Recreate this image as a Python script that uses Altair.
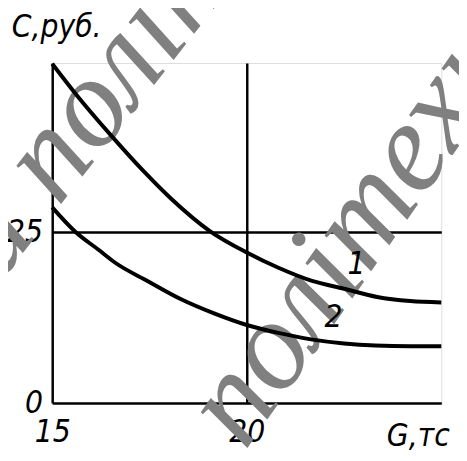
import altair as alt
import pandas as pd

# Curve data
g1 = [15.0, 15.63, 16.5, 17.33, 18.05, 19.06, 20.0, 20.8, 21.7, 22.5, 23.35, 24.2, 25.0]
c1 = [49.6, 45.0, 39.2, 34.0, 29.9, 25.1, 22.0, 19.8, 17.8, 16.7, 15.5, 14.9, 14.7]
g2 = [15.0, 15.6, 16.19, 16.62, 17.46, 18.3, 19.16, 20.0, 20.84, 21.65, 22.5, 23.3, 24.2, 25.0]
c2 = [28.6, 25.0, 22.4, 20.5, 17.8, 15.2, 13.1, 11.4, 10.2, 9.3, 8.7, 8.4, 8.3, 8.3]

x_ticks = [15, 20]
y_ticks = [0, 25]

curve_names = ["1", "2"]
label_g = [22.82, 22.23]
label_c = [20.3, 12.5]

x_title = "G,тс"
y_title = "С,руб."

wm_texts = ["а політ", "політехн"]

FONT = "DejaVu Sans Condensed, DejaVu Sans, sans-serif"
WMFONT = "Liberation Serif, DejaVu Serif, serif"

curves = pd.DataFrame(
    {"G": g1 + g2, "C": c1 + c2, "curve": ["1"] * len(g1) + ["2"] * len(g2)}
)
labels = pd.DataFrame({"G": label_g, "C": label_c, "t": curve_names})

xs = alt.Scale(domain=[15, 25], nice=False, zero=False)
ys = alt.Scale(domain=[0, 49.7], nice=False, zero=False)

x_axis = alt.Axis(
    values=x_ticks, grid=True, gridColor="black", gridWidth=2.5, gridOpacity=1,
    domain=False, ticks=False, labelFlush=False,
    labelFont=FONT, labelFontSize=32, labelFontStyle="italic", labelColor="black",
    labelPadding=14,
    title=x_title, titleX=372, titleY=18, titleAlign="center", titleBaseline="top",
    titleFont=FONT, titleFontSize=32, titleFontStyle="italic", titleFontWeight="normal",
    titleColor="black",
)
y_axis = alt.Axis(
    values=y_ticks, grid=True, gridColor="black", gridWidth=2.5, gridOpacity=1,
    domain=False, ticks=False, labelFlush=False,
    labelFont=FONT, labelFontSize=32, labelFontStyle="italic", labelColor="black",
    labelPadding=10,
    title=y_title, titleAngle=0, titleX=4, titleY=-52, titleAlign="center",
    titleBaseline="top",
    titleFont=FONT, titleFontSize=32, titleFontStyle="italic", titleFontWeight="normal",
    titleColor="black",
)

base = alt.Chart(curves)

wm1 = alt.Chart(pd.DataFrame({"t": [wm_texts[0]]})).mark_text(
    font=WMFONT, fontSize=130, fontStyle="italic", color="#808080", angle=308,
    align="center", baseline="middle",
).encode(text="t:N", x=alt.value(42), y=alt.value(38))

wm2 = alt.Chart(pd.DataFrame({"t": [wm_texts[1]]})).mark_text(
    font=WMFONT, fontSize=130, fontStyle="italic", color="#808080", angle=305,
    align="center", baseline="middle",
).encode(text="t:N", x=alt.value(305), y=alt.value(172))

lines = base.mark_line(color="black", strokeWidth=4, interpolate="monotone").encode(
    x=alt.X("G:Q", scale=xs, axis=x_axis),
    y=alt.Y("C:Q", scale=ys, axis=y_axis),
    detail="curve:N",
)

txt = alt.Chart(labels).mark_text(
    font=FONT, fontSize=32, fontStyle="italic", color="black",
    align="center", baseline="middle",
).encode(x=alt.X("G:Q", scale=xs), y=alt.Y("C:Q", scale=ys), text="t:N")

chart = (
    alt.layer(wm1, wm2, lines, txt)
    .properties(
        width=396, height=346,
        autosize=alt.AutoSizeParams(type="none"),
        padding={"left": 45, "top": 52, "right": 18, "bottom": 51},
    )
    .configure_view(stroke="black", strokeWidth=3.5)
    .configure(background="white")
)

chart.save("out.html", embed_options={"renderer": "svg", "actions": False})
